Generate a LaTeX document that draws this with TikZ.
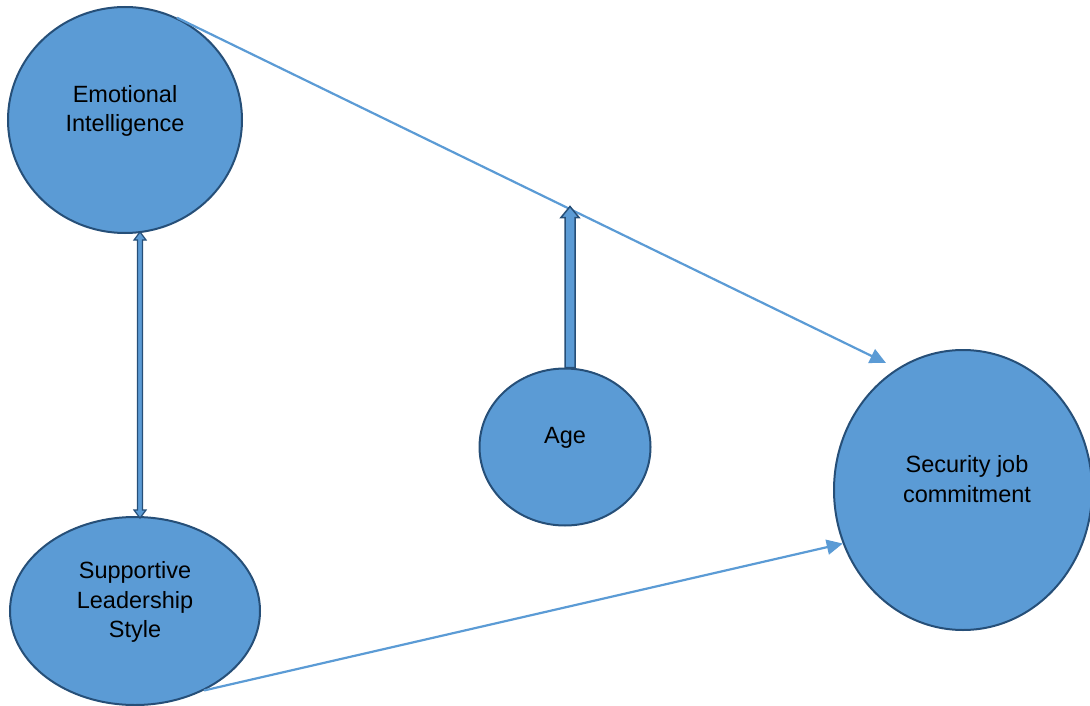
\documentclass[tikz,border=0pt]{standalone}
\usepackage{fontspec}
\setmainfont{Liberation Sans}
\usetikzlibrary{shapes.geometric,arrows.meta,calc}
\definecolor{fillblue}{HTML}{5B9BD5}
\definecolor{edgeblue}{HTML}{264F78}
\tikzset{
  blob/.style={ellipse, draw=edgeblue, line width=2pt, fill=fillblue, inner sep=0pt},
  txt/.style={align=center, font=\fontsize{23.5}{29.5}\selectfont, text=black},
  conn/.style={draw=fillblue, line width=2.2pt, -{Triangle[length=16pt,width=15pt]}},
  blockarrow/.style={fill=fillblue, draw=edgeblue, line width=1.5pt, line join=miter}
}
\begin{document}
\begin{tikzpicture}[x=1pt,y=-1pt]
\useasboundingbox (0,0) rectangle (1090,706);
% ellipses
\node[blob, minimum width=234pt, minimum height=226pt] (ei) at (125,120) {};
\node[blob, minimum width=250pt, minimum height=188pt] (sls) at (135,611) {};
\node[blob, minimum width=171pt, minimum height=157pt] (age) at (565,447) {};
\node[blob, minimum width=258pt, minimum height=280pt] (sjc) at (963,490) {};
% texts
\node[txt] (eit) at (125,111) {Emotional\\Intelligence};
\node[txt] (slst) at (135,602) {Supportive\\Leadership\\Style};
\node[txt] (aget) at (565,438) {Age};
\node[txt] (sjct) at (967,479) {Security job\\commitment};
% connectors
\coordinate (t1) at (886,363);
\draw[conn] (ei.63) -- (t1);
\draw[conn] (sls.-49) -- (sjc.204);
% block arrow Age -> line
\path (age.north) ++(5,0) coordinate (ab);
\draw[blockarrow] ($(ab)+(-5,0)$) -- ($(ab)+(-5,-150)$) -- ($(ab)+(-9,-150)$) -- ($(ab)+(0,-161)$)
  -- ($(ab)+(9,-150)$) -- ($(ab)+(5,-150)$) -- ($(ab)+(5,0)$) -- cycle;
% double block arrow EI <-> SLS
\coordinate (dt) at (140,232);
\coordinate (db) at (140,518);
\draw[blockarrow, line width=1.2pt] (dt) -- ($(dt)+(6,8)$) -- ($(dt)+(2.5,8)$) -- ($(db)+(2.5,-8)$) -- ($(db)+(6,-8)$)
  -- (db) -- ($(db)+(-6,-8)$) -- ($(db)+(-2.5,-8)$) -- ($(dt)+(-2.5,8)$) -- ($(dt)+(-6,8)$) -- cycle;
\end{tikzpicture}
\end{document}
